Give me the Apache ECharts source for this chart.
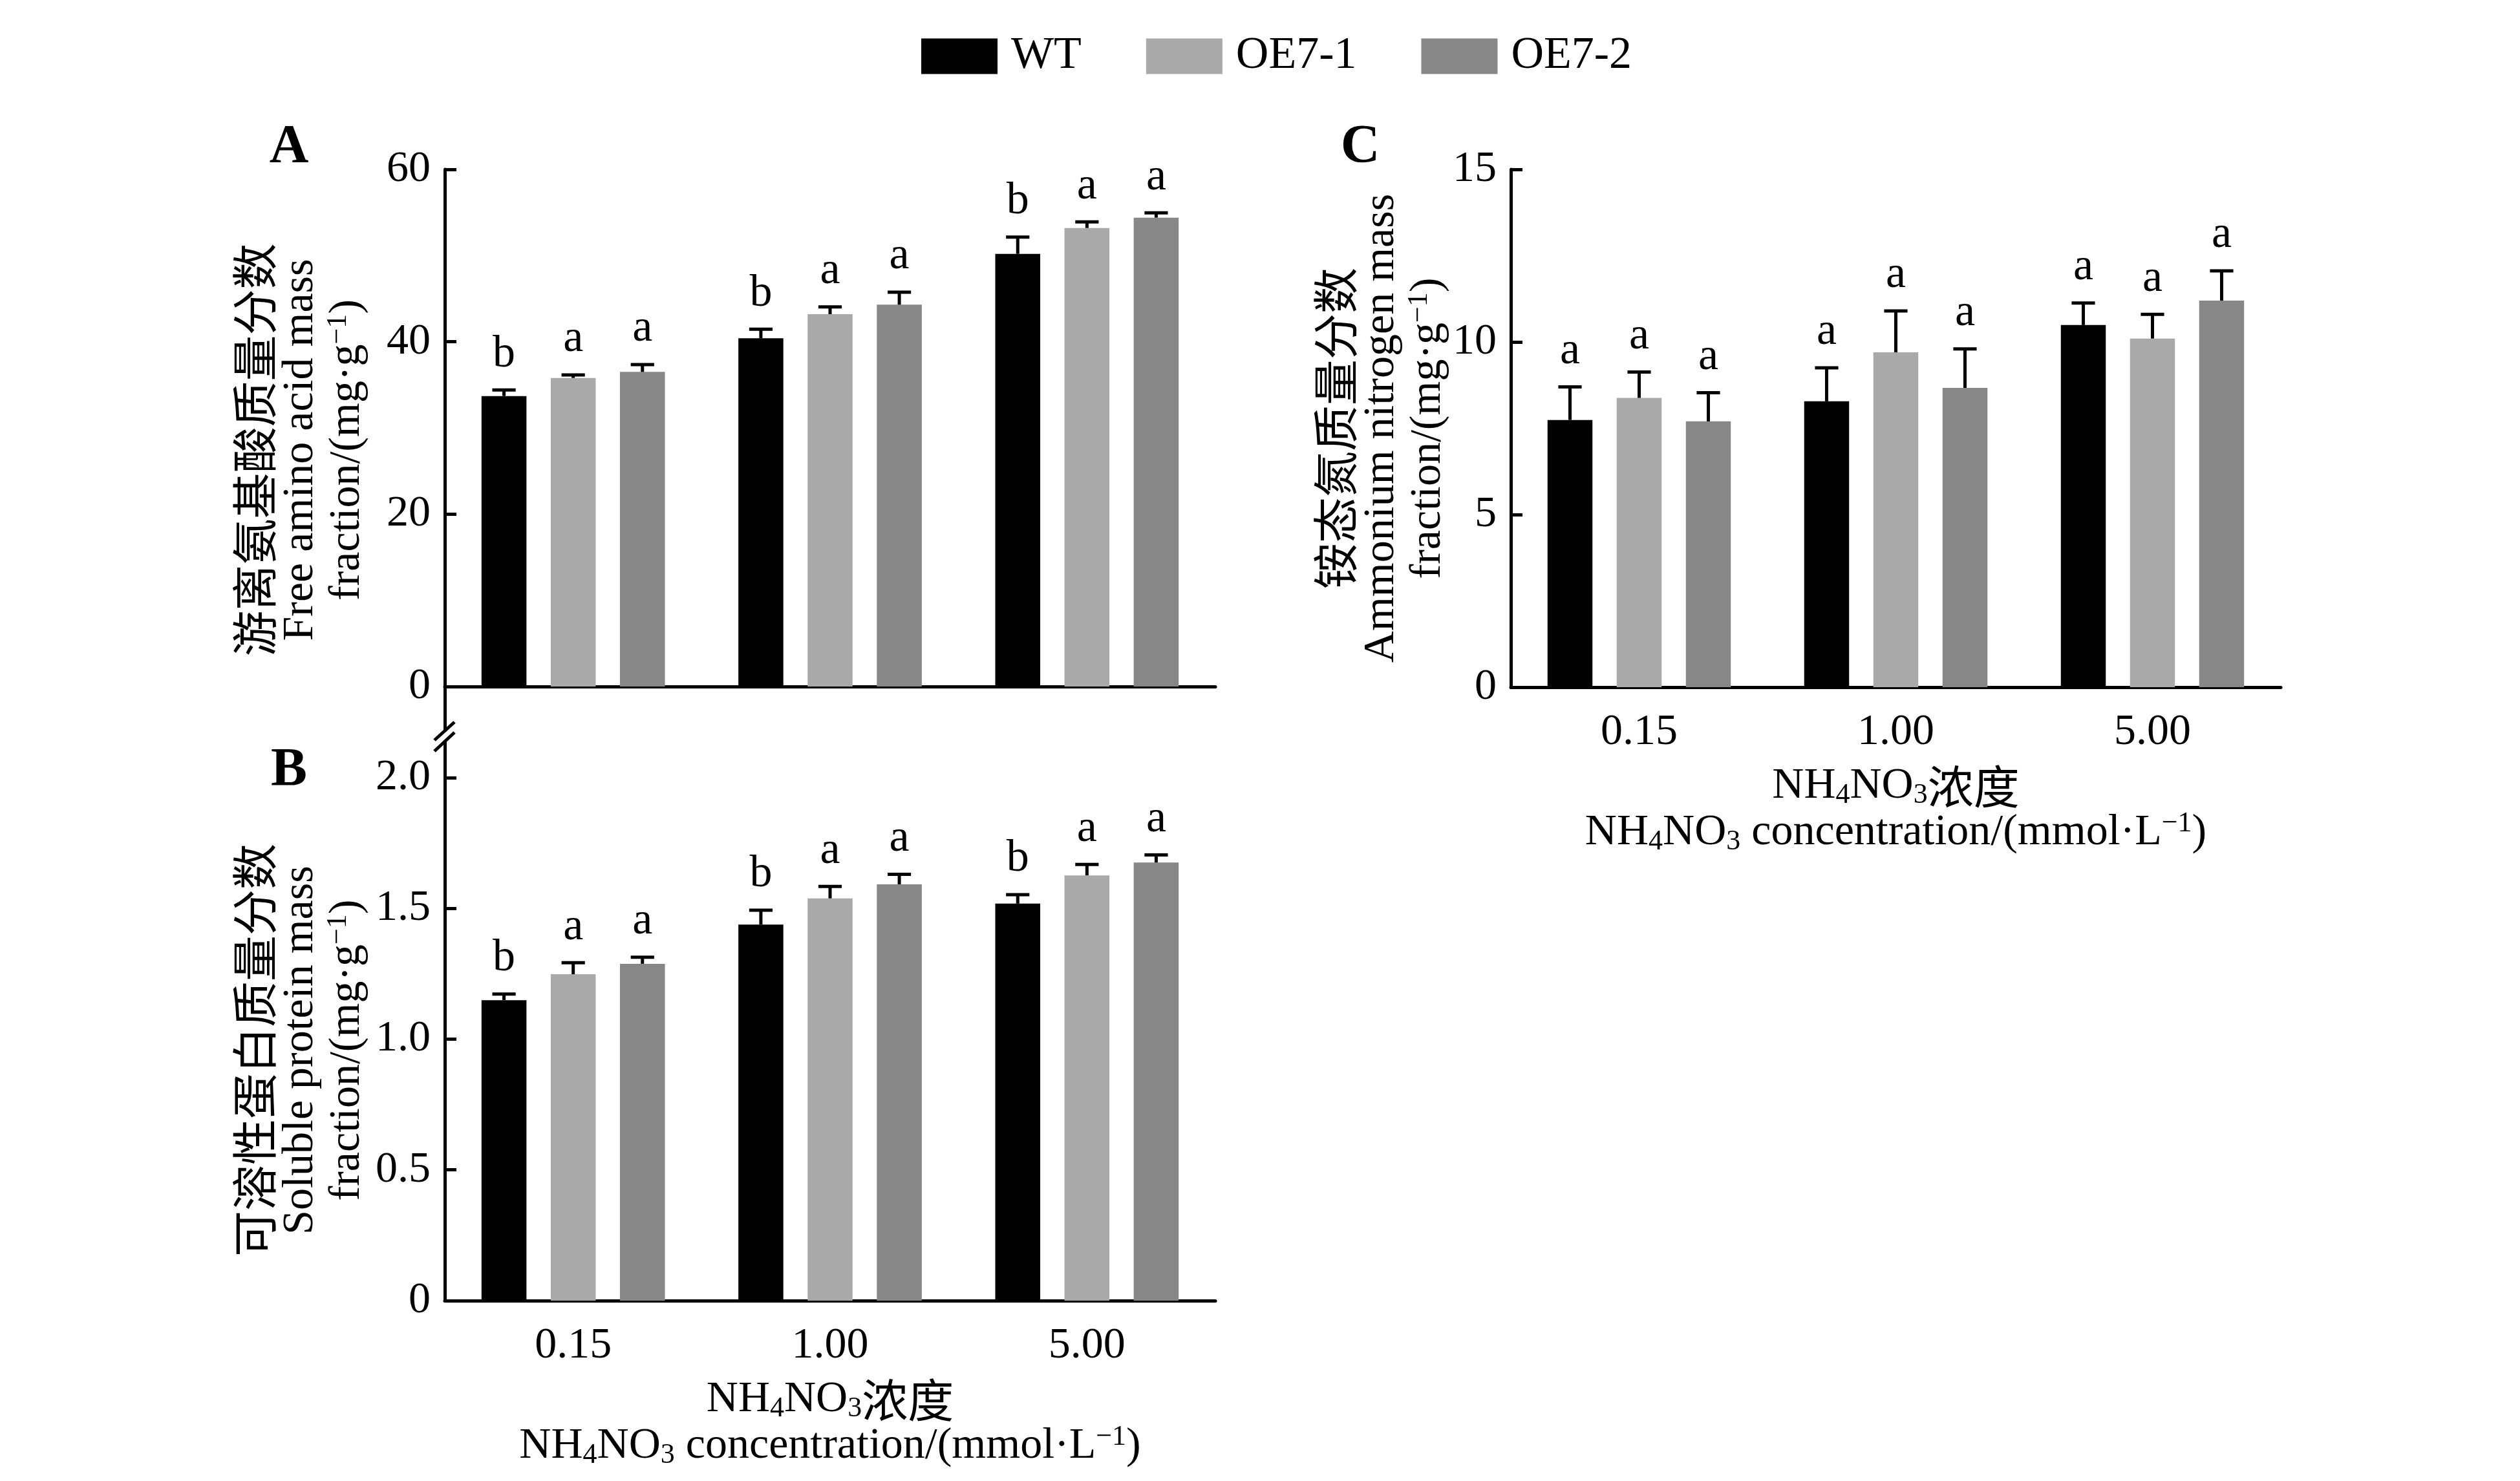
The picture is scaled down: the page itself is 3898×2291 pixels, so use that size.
<!DOCTYPE html>
<html>
<head>
<meta charset="utf-8">
<script src="https://cdn.jsdelivr.net/npm/echarts@6/dist/echarts.min.js"></script>
<style>
  html, body { margin: 0; padding: 0; background: #fff; }
  #container { width: 3898px; height: 2291px; }
</style>
</head>
<body>
<div id="container"></div>
<script>
var categories = ['0.15', '1.00', '5.00'];
var seriesNames = ['WT', 'OE7-1', 'OE7-2'];

// A 游离氨基酸
var aminoWT = [33.7, 40.4, 50.2];
var aminoOE1 = [35.8, 43.2, 53.2];
var aminoOE2 = [36.5, 44.3, 54.4];
var aminoErrWT = [0.7, 1.05, 1.95];
var aminoErrOE1 = [0.35, 0.85, 0.7];
var aminoErrOE2 = [0.85, 1.45, 0.55];
var aminoSigWT = ['b', 'b', 'b'];
var aminoSigOE1 = ['a', 'a', 'a'];
var aminoSigOE2 = ['a', 'a', 'a'];

// B 可溶性蛋白
var proteinWT = [1.149, 1.438, 1.518];
var proteinOE1 = [1.248, 1.538, 1.626];
var proteinOE2 = [1.288, 1.592, 1.675];
var proteinErrWT = [0.023, 0.055, 0.034];
var proteinErrOE1 = [0.044, 0.046, 0.042];
var proteinErrOE2 = [0.025, 0.038, 0.029];
var proteinSigWT = ['b', 'b', 'b'];
var proteinSigOE1 = ['a', 'a', 'a'];
var proteinSigOE2 = ['a', 'a', 'a'];

// C 铵态氮
var ammoniumWT = [7.74, 8.28, 10.49];
var ammoniumOE1 = [8.38, 9.70, 10.10];
var ammoniumOE2 = [7.70, 8.67, 11.20];
var ammoniumErrWT = [0.96, 0.97, 0.64];
var ammoniumErrOE1 = [0.75, 1.2, 0.70];
var ammoniumErrOE2 = [0.83, 1.13, 0.86];
var ammoniumSigWT = ['a', 'a', 'a'];
var ammoniumSigOE1 = ['a', 'a', 'a'];
var ammoniumSigOE2 = ['a', 'a', 'a'];

var ticksA = [0, 20, 40, 60];
var ticksB = [0, 0.5, 1.0, 1.5, 2.0];
var ticksC = [0, 5, 10, 15];

var FONT = '"Liberation Serif", "Times New Roman", serif';
var CJK = '"Noto Sans CJK SC", sans-serif';
var colors = ['#000000', '#a9a9a9', '#878787'];
var BAR_W = 0.175, BAR_GAP = 0.54;

var dom = document.getElementById('container');
var myChart = echarts.init(dom);

var rich = {
    t: {fontFamily: FONT, fontSize: 68, lineHeight: 72, color: '#000', align: 'center'},
    c: {fontFamily: CJK, fontSize: 71, lineHeight: 72, color: '#000', align: 'center'},
    s: {fontFamily: FONT, fontSize: 44, lineHeight: 30, color: '#000', align: 'center', verticalAlign: 'bottom'},
    p: {fontFamily: FONT, fontSize: 44, lineHeight: 44, color: '#000', align: 'center', verticalAlign: 'top'}
};
var xName = '{t|NH}{s|4}{t|NO}{s|3}{c|浓度}\n{t|NH}{s|4}{t|NO}{s|3}{t| concentration/(mmol·L}{p|−1}{t|)}';

function makeErr(k, sig) {
    return function (params, api) {
        var i = api.value(0), y = api.value(1), e = api.value(2);
        var band = api.size([1, 0])[0];
        var bw = band * BAR_W, gap = bw * BAR_GAP;
        var base = api.coord([i, y]);
        var top = api.coord([i, y + e]);
        var x = base[0] + (k - 1) * (bw + gap);
        var cap = bw * 0.26;
        return {
            type: 'group',
            children: [
                {type: 'line', shape: {x1: x, y1: base[1], x2: x, y2: top[1]}, style: {stroke: '#000', lineWidth: 5}},
                {type: 'line', shape: {x1: x - cap, y1: top[1], x2: x + cap, y2: top[1]}, style: {stroke: '#000', lineWidth: 5}},
                {type: 'text', x: x, y: top[1] - 20, style: {text: sig[params.dataIndex], fontFamily: FONT, fontSize: 70, fill: '#000', align: 'center', verticalAlign: 'bottom'}}
            ]
        };
    };
}

function panelSeries(gi, vals, errs, sigs) {
    var out = [];
    for (var k = 0; k < vals.length; k++) {
        out.push({
            type: 'bar', name: seriesNames[k], xAxisIndex: gi, yAxisIndex: gi,
            data: vals[k], barWidth: (BAR_W * 100) + '%', barGap: (BAR_GAP * 100) + '%',
            itemStyle: {color: colors[k]}, emphasis: {disabled: true}
        });
        out.push({
            type: 'custom', name: 'err' + gi + k, xAxisIndex: gi, yAxisIndex: gi, z: 5, silent: true,
            data: vals[k].map(function (v, i) { return [i, v, errs[k][i]]; }),
            renderItem: makeErr(k, sigs[k])
        });
    }
    return out;
}

function xAxisOf(gi, showLabel) {
    var ax = {
        type: 'category', gridIndex: gi, data: categories,
        axisLine: {lineStyle: {color: '#000', width: 5}},
        axisTick: {inside: true, alignWithLabel: true, length: 15, lineStyle: {color: '#000', width: 4}},
        axisLabel: {show: showLabel, fontFamily: FONT, fontSize: 68, color: '#000', margin: 36}
    };
    if (showLabel) {
        ax.name = xName;
        ax.nameLocation = 'middle';
        ax.nameGap = 117;
        ax.nameTextStyle = {rich: rich, align: 'center'};
    }
    return ax;
}

function yAxisOf(gi, min, max, ticks, dec, name, gap, pad) {
    return {
        type: 'value', gridIndex: gi, min: min, max: max,
        axisLine: {show: true, lineStyle: {color: '#000', width: 5}},
        axisTick: {show: true, inside: true, length: 18, lineStyle: {color: '#000', width: 5}, customValues: ticks},
        axisLabel: {
            customValues: ticks, fontFamily: FONT, fontSize: 68, color: '#000', margin: 22,
            formatter: function (v) { return v === 0 ? '0' : v.toFixed(dec); }
        },
        splitLine: {show: false},
        name: name, nameLocation: 'middle', nameRotate: 90, nameGap: gap,
        nameTextStyle: {rich: rich, align: 'center', padding: pad}
    };
}

var option = {
    animation: false,
    backgroundColor: '#fff',
    legend: {
        left: 1420, top: 47, itemWidth: 118, itemHeight: 55, itemGap: 100, icon: 'rect',
        selectedMode: false, data: seriesNames,
        textStyle: {fontFamily: FONT, fontSize: 70, color: '#000', padding: [0, 0, 0, 16]}
    },
    grid: [
        {left: 688, top: 262, width: 1192, height: 868},
        {left: 688, top: 1147, width: 1192, height: 865},
        {left: 2337, top: 262, width: 1191, height: 801}
    ],
    xAxis: [xAxisOf(0, false), xAxisOf(1, true), xAxisOf(2, true)],
    yAxis: [
        yAxisOf(0, -5.1, 60, ticksA, 0, '{c|游离氨基酸质量分数}\n{t|Free amino acid mass}\n{t|fraction/(mg·g}{p|−1}{t|)}', 115, [0, 0, 0, 0]),
        yAxisOf(1, 0, 2.138, ticksB, 1, '{c|可溶性蛋白质量分数}\n{t|Soluble protein mass}\n{t|fraction/(mg·g}{p|−1}{t|)}', 115, [0, 90, 0, 0]),
        yAxisOf(2, 0, 15, ticksC, 0, '{c|铵态氮质量分数}\n{t|Ammonium nitrogen mass}\n{t|fraction/(mg·g}{p|−1}{t|)}', 92, [0, 0, 0, 0])
    ],
    graphic: [
        {type: 'text', x: 447, y: 229, style: {text: 'A', fontFamily: FONT, fontSize: 84, fontWeight: 'bold', fill: '#000', align: 'center', verticalAlign: 'middle'}},
        {type: 'text', x: 447, y: 1193, style: {text: 'B', fontFamily: FONT, fontSize: 84, fontWeight: 'bold', fill: '#000', align: 'center', verticalAlign: 'middle'}},
        {type: 'text', x: 2104, y: 229, style: {text: 'C', fontFamily: FONT, fontSize: 84, fontWeight: 'bold', fill: '#000', align: 'center', verticalAlign: 'middle'}},
        {type: 'line', shape: {x1: 672, y1: 1145, x2: 703, y2: 1117}, style: {stroke: '#000', lineWidth: 5}},
        {type: 'line', shape: {x1: 672, y1: 1162, x2: 703, y2: 1133}, style: {stroke: '#000', lineWidth: 5}}
    ],
    series: [].concat(
        panelSeries(0, [aminoWT, aminoOE1, aminoOE2], [aminoErrWT, aminoErrOE1, aminoErrOE2], [aminoSigWT, aminoSigOE1, aminoSigOE2]),
        panelSeries(1, [proteinWT, proteinOE1, proteinOE2], [proteinErrWT, proteinErrOE1, proteinErrOE2], [proteinSigWT, proteinSigOE1, proteinSigOE2]),
        panelSeries(2, [ammoniumWT, ammoniumOE1, ammoniumOE2], [ammoniumErrWT, ammoniumErrOE1, ammoniumErrOE2], [ammoniumSigWT, ammoniumSigOE1, ammoniumSigOE2])
    )
};

myChart.setOption(option, true);
</script>
</body>
</html>
